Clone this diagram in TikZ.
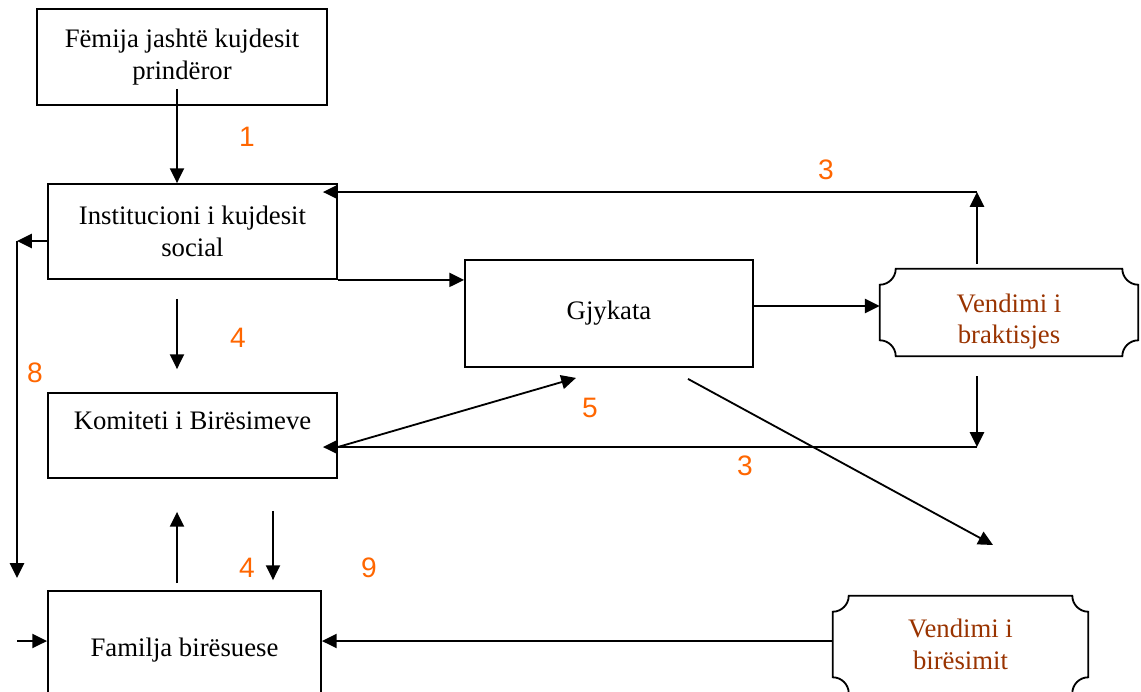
\documentclass[tikz,border=0pt]{standalone}
\usepackage{fontspec}
\setmainfont{Liberation Serif}
\newfontfamily\numfont{Liberation Sans}
\usetikzlibrary{arrows.meta,calc}
\definecolor{numorange}{HTML}{FF6600}
\definecolor{decbrown}{HTML}{993300}
\def\px{0.025cm}
\def\notchR{16}
\def\notchK{8.8}
\newcommand\notchframe[1]{%
 \draw[boxline] ($(#1.north west)+(\notchR,0)$) -- ($(#1.north east)+(-\notchR,0)$)
 .. controls ($(#1.north east)+(-\notchR,\notchK)$) and ($(#1.north east)+(-\notchK,\notchR)$) .. ($(#1.north east)+(0,\notchR)$)
 -- ($(#1.south east)+(0,-\notchR)$)
 .. controls ($(#1.south east)+(-\notchK,-\notchR)$) and ($(#1.south east)+(-\notchR,-\notchK)$) .. ($(#1.south east)+(-\notchR,0)$)
 -- ($(#1.south west)+(\notchR,0)$)
 .. controls ($(#1.south west)+(\notchR,-\notchK)$) and ($(#1.south west)+(\notchK,-\notchR)$) .. ($(#1.south west)+(0,-\notchR)$)
 -- ($(#1.north west)+(0,\notchR)$)
 .. controls ($(#1.north west)+(\notchK,\notchR)$) and ($(#1.north west)+(\notchR,\notchK)$) .. cycle;}
\tikzset{
 boxline/.style={line width=1.3pt},
 txt/.style={align=center, inner sep=0pt, font=\fontsize{19}{22.5}\selectfont},
 box/.style={boxline, draw, rectangle, inner sep=0pt, align=center, font=\fontsize{19}{22.5}\selectfont},
 dec/.style={rectangle, inner sep=0pt, align=center, text=decbrown, font=\fontsize{19}{22.5}\selectfont},
 arr/.style={line width=1.3pt, -{Triangle[length=10.5pt,width=10pt]}},
 num/.style={text=numorange, font=\numfont\fontsize{20}{24}\selectfont, inner sep=0pt},
}
\begin{document}
\begin{tikzpicture}[x=0.025cm,y=-0.025cm]
\useasboundingbox (0,0) rectangle (1141,691);
\clip (0,0) rectangle (1141,691);
% boxes
\node[box, minimum width=290*\px, minimum height=96*\px] (fem) at (182,57) {Fëmija jashtë kujdesit\\prindëror};
\node[box, minimum width=289*\px, minimum height=95*\px] (inst) at (192.5,231.5) {Institucioni i kujdesit\\social};
\node[box, minimum width=289*\px, minimum height=85*\px,
      label={[txt, yshift=10.6pt]center:Komiteti i Birësimeve}] (kom) at (192.5,435.5) {};
\node[box, minimum width=273*\px, minimum height=118*\px] (fam) at (184.5,650) {Familja birësuese};
\node[box, minimum width=288*\px, minimum height=107*\px] (gj) at (609,313.5) {Gjykata};
\node[dec, minimum width=258*\px, minimum height=87*\px,
      label={[txt, text=decbrown, yshift=-6.4pt]center:Vendimi i\\braktisjes}] (vb) at (1009,312.5) {};
\notchframe{vb}
\node[dec, minimum width=255*\px, minimum height=97*\px] (vbi) at (960.5,644.5) {Vendimi i\\birësimit};
\notchframe{vbi}
% connectors
\draw[arr] ($(fem.south)+(-5,-17)$) -- ($(inst.north)+(-15.5,0)$);
\node[num] (n1) at (247,137) {1};
\draw[arr] (inst.south east) -- (inst.south east -| gj.west);
\coordinate (L1) at (17,241);
\coordinate (L2) at (17,578);
\draw[arr] (inst.west |- L1) -- (L1);
\draw[arr] (L1) -- (L2);
\node[num] (n8) at (35,373) {8};
\draw[arr] ($(inst.south)+(-15.5,19)$) -- ($(kom.north)+(-15.5,-23)$);
\node[num] (n4a) at (238,338) {4};
\coordinate (T) at (977,192);
\draw[arr] ($(vb.north)+(-32,-5)$) -- (T);
\draw[arr] (T) -- ($(inst.east |- T)+(-15,0)$);
\node[num] (n3a) at (826,170) {3};
\coordinate (G) at (0,306);
\draw[arr] (gj.east |- G) -- (vb.west |- G);
\coordinate (B) at (977,447);
\draw[arr] ($(vb.south)+(-32,20)$) -- (B);
\draw[arr] (B) -- ($(kom.east |- B)+(-15,0)$);
\draw[arr] (kom.east |- B) -- ($(gj.south)+(-33,10)$);
\node[num] (n5) at (590,408) {5};
\node[num] (n3b) at (745,466) {3};
\coordinate (D) at (993,545);
\draw[arr] ($(gj.south)+(79,11)$) -- (D);
\draw[arr] ($(fam.north)+(-7.5,-7)$) -- ($(kom.south)+(-15.5,33)$);
\draw[arr] ($(kom.south)+(80.5,32)$) -- ($(fam.north)+(88.5,-10)$);
\node[num] (n4b) at (247,568) {4};
\node[num] (n9) at (369,568) {9};
\coordinate (F) at (17,641);
\draw[arr] (F) -- (fam.west |- F);
\draw[arr] (vbi.west |- F) -- (fam.east |- F);
\end{tikzpicture}
\end{document}
